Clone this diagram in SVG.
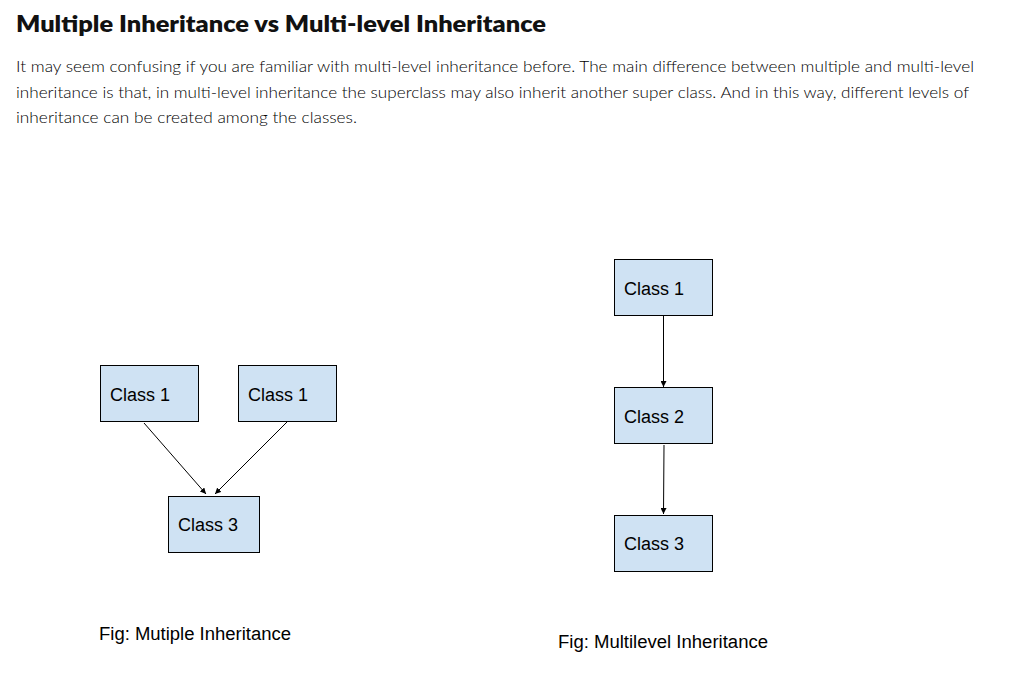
<svg xmlns="http://www.w3.org/2000/svg" width="1016" height="691" viewBox="0 0 1016 691">
<style>
.title{font-family:Lato,"Open Sans","Liberation Sans",sans-serif;font-weight:800;font-size:22.5px;fill:#111}
.body{font-family:Lato,"Open Sans","Liberation Sans",sans-serif;font-weight:300;font-size:16px;fill:#000}
.box{fill:#cfe2f3;stroke:#000;stroke-width:1}
.lbl{font-family:"Liberation Sans",Arial,sans-serif;font-size:18px;fill:#000}
.cap{font-family:"Liberation Sans",Arial,sans-serif;font-size:18px;fill:#000}
.conn{stroke:#000;stroke-width:1;fill:none;marker-end:url(#arr)}
</style>
<defs>
<marker id="arr" markerWidth="6" markerHeight="6" refX="6" refY="3" orient="auto" markerUnits="userSpaceOnUse">
<path d="M0,0 L6,3 L0,6 z" fill="#000"/>
</marker>
</defs>
<rect width="1016" height="691" fill="#fff"/>
<text class="title" x="16" y="31.5" textLength="530" lengthAdjust="spacingAndGlyphs">Multiple Inheritance vs Multi-level Inheritance</text>
<text class="body" x="16" y="72" textLength="958" lengthAdjust="spacingAndGlyphs">It may seem confusing if you are familiar with multi-level inheritance before. The main difference between multiple and multi-level</text>
<text class="body" x="16" y="97.5" textLength="953" lengthAdjust="spacingAndGlyphs">inheritance is that, in multi-level inheritance the superclass may also inherit another super class. And in this way, different levels of</text>
<text class="body" x="16" y="123" textLength="341" lengthAdjust="spacingAndGlyphs">inheritance can be created among the classes.</text>

<g id="connectors">
<line class="conn" x1="144" y1="423" x2="206" y2="494"/>
<line class="conn" x1="287" y1="422" x2="215" y2="494"/>
<line class="conn" x1="663.5" y1="316" x2="663.5" y2="387"/>
<line class="conn" x1="664" y1="445" x2="663.5" y2="514"/>
</g>

<g id="m-class1a"><rect class="box" x="100.5" y="365.5" width="98" height="56"/><text class="lbl" x="110" y="400.5">Class 1</text></g>
<g id="m-class1b"><rect class="box" x="238.5" y="365.5" width="98" height="56"/><text class="lbl" x="248" y="400.5">Class 1</text></g>
<g id="m-class3"><rect class="box" x="168.5" y="496.5" width="91" height="56"/><text class="lbl" x="178" y="531">Class 3</text></g>

<g id="l-class1"><rect class="box" x="614.5" y="259.5" width="98" height="56"/><text class="lbl" x="624" y="294.5">Class 1</text></g>
<g id="l-class2"><rect class="box" x="614.5" y="387.5" width="98" height="56"/><text class="lbl" x="624" y="422.5">Class 2</text></g>
<g id="l-class3"><rect class="box" x="614.5" y="515.5" width="98" height="56"/><text class="lbl" x="624" y="550">Class 3</text></g>

<text class="cap" x="99" y="640" textLength="192" lengthAdjust="spacingAndGlyphs">Fig: Mutiple Inheritance</text>
<text class="cap" x="558" y="648" textLength="210" lengthAdjust="spacingAndGlyphs">Fig: Multilevel Inheritance</text>
</svg>
